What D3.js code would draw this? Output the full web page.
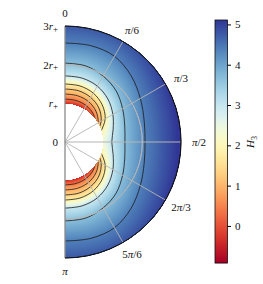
<!DOCTYPE html>
<html>
<head>
<meta charset="utf-8">
<script src="https://cdn.jsdelivr.net/npm/d3@7"></script>
<style>
  html, body { margin: 0; padding: 0; background: #fff; }
  svg { display: block; }
  text { font-family: "Liberation Serif", serif; font-size: 11px; fill: #111; }
  .math { font-style: italic; }
</style>
</head>
<body>
<script>
'use strict';

// polar angle in degrees, mirrored about the equator further down
const angles = [0, 15, 30, 45, 60, 75, 90];

// H3 values that the radius rows below belong to. first and last rows sit outside the plot
const levels = [-0.92, 0.4, 0.9, 1.3, 1.8, 3.0, 3.7, 4.4, 5.25];
// the ones that get a black contour line
const contour_levels = [0.4, 0.9, 1.3, 1.8, 3.0, 3.7, 4.4];

// radius (in r+) where H3 reaches each level, read at each angle
const r_bottom = [0.90, 0.90, 0.90, 0.86, 0.76, 0.66, 0.62];
const r_04 = [1.11, 1.11, 1.09, 1.03, 0.92, 0.74, 0.68];
const r_09 = [1.24, 1.24, 1.21, 1.13, 0.99, 0.79, 0.72];
const r_13 = [1.37, 1.37, 1.33, 1.24, 1.08, 0.85, 0.76];
const r_18 = [1.50, 1.50, 1.46, 1.36, 1.20, 0.95, 0.80];
const r_28 = [1.71, 1.71, 1.67, 1.57, 1.43, 1.29, 1.21];
const r_35 = [2.04, 2.04, 1.97, 1.87, 1.72, 1.60, 1.55];
const r_42 = [2.56, 2.58, 2.56, 2.42, 2.25, 2.12, 2.07];
const r_top = [3.50, 3.50, 3.45, 3.35, 3.20, 3.10, 3.05];
const radius_rows = [r_bottom, r_04, r_09, r_13, r_18, r_28, r_35, r_42, r_top];

const spoke_angles = [30, 60, 90, 120, 150];
const angle_labels = ['0', 'π/6', 'π/3', 'π/2', '2π/3', '5π/6', 'π'];
const radial_ticks = [0, 1, 2, 3];
const radial_labels = ['0', 'r', '2r', '3r'];
const bar_ticks = [0, 1, 2, 3, 4, 5];
const color_domain = [-0.92, 5.11];

const width = 263, height = 284;
const cx = 65, cy = 142;
const bar = {x: 215, y: 20, width: 12.5, height: 243};

const svg = d3.select('body').append('svg')
    .attr('width', width)
    .attr('height', height);

const rScale = d3.scaleLinear().domain([0, 3]).range([0, 116]);
const aScale = d3.scaleLinear().domain([0, 180]).range([0, Math.PI]);
const color = d3.scaleSequential(d3.interpolateRdYlBu).domain(color_domain);

// mirror a row from 0..90 to 0..180
const full_angles = angles.concat(angles.slice(0, -1).reverse().map(a => 180 - a));
const mirror = row => row.concat(row.slice(0, -1).reverse());
const full_rows = radius_rows.map(mirror);

const defs = svg.append('defs');
const annulus = d3.arc()
    .innerRadius(rScale(1))
    .outerRadius(rScale(3))
    .startAngle(0)
    .endAngle(Math.PI);
defs.append('clipPath').attr('id', 'annulus')
    .append('path')
    .attr('d', annulus());

const plot = svg.append('g').attr('transform', `translate(${cx},${cy})`);
const field = plot.append('g').attr('clip-path', 'url(#annulus)');

// radius of a value at each angle, through the levels table
const radii_for = v => full_angles.map((a, i) =>
    d3.scaleLinear().domain(levels).range(full_rows.map(row => row[i]))(v));

const area = d3.areaRadial()
    .angle(d => aScale(d.a))
    .innerRadius(d => rScale(d.r))
    .outerRadius(rScale(3.6))
    .curve(d3.curveCatmullRom);

// paint from low to high, each band covers everything further out
field.selectAll('.band')
    .data(d3.range(-0.9, 5.15, 0.04))
    .join('path')
    .attr('class', 'band')
    .attr('fill', d => color(d))
    .attr('d', v => {
        const radii = radii_for(v);
        return area(full_angles.map((a, i) => ({a, r: radii[i]})));
    });

const line = d3.lineRadial()
    .angle(d => aScale(d.a))
    .radius(d => rScale(d.r))
    .curve(d3.curveCatmullRom);

field.selectAll('.contour')
    .data(contour_levels)
    .join('path')
    .attr('class', 'contour')
    .attr('fill', 'none')
    .attr('stroke', '#1a1a1a')
    .attr('stroke-width', 0.8)
    .attr('d', v => {
        const radii = radii_for(v);
        return line(full_angles.map((a, i) => ({a, r: radii[i]})));
    });

// grid
const grid_color = '#b4b4b4';
plot.selectAll('.spoke')
    .data(spoke_angles)
    .join('line')
    .attr('class', 'spoke')
    .attr('x1', 0)
    .attr('y1', 0)
    .attr('x2', d => rScale(3) * Math.sin(aScale(d)))
    .attr('y2', d => -rScale(3) * Math.cos(aScale(d)))
    .attr('stroke', grid_color)
    .attr('stroke-width', d => d === 90 ? 1.2 : 0.9);

plot.append('path')
    .attr('fill', 'none')
    .attr('stroke', grid_color)
    .attr('stroke-width', 0.9)
    .attr('d', d3.arc()
        .innerRadius(rScale(2))
        .outerRadius(rScale(2))
        .startAngle(0)
        .endAngle(Math.PI)());

// outline
plot.append('line')
    .attr('y1', -rScale(3))
    .attr('y2', rScale(3))
    .attr('stroke', '#8a8a8a')
    .attr('stroke-width', 1.3);
plot.append('path')
    .attr('fill', 'none')
    .attr('stroke', '#111')
    .attr('stroke-width', 0.8)
    .attr('d', d3.arc()
        .innerRadius(rScale(3))
        .outerRadius(rScale(3))
        .startAngle(0)
        .endAngle(Math.PI)());

// angle labels, only the pi is italic
const angle_text = plot.selectAll('.angle-label')
    .data(angle_labels)
    .join('text')
    .attr('class', 'angle-label')
    .attr('text-anchor', 'middle')
    .attr('dominant-baseline', 'central')
    .attr('x', (d, i) => {
        const t = aScale(i * 30), pad = i === 0 || i === 6 ? 13 : 18;
        return (rScale(3) + pad) * Math.sin(t);
    })
    .attr('y', (d, i) => -(rScale(3) + 13) * Math.cos(aScale(i * 30)));
angle_text.each(function(d) {
    d.split(/(π)/).filter(s => s).forEach(s => {
        d3.select(this).append('tspan')
            .style('font-style', s === 'π' ? 'italic' : 'normal')
            .text(s);
    });
});

// radial labels, on the left of the axis
const radial = plot.selectAll('.radial-label')
    .data(radial_ticks)
    .join('text')
    .attr('class', 'radial-label')
    .attr('text-anchor', 'end')
    .attr('dominant-baseline', 'central')
    .attr('x', d => d === 0 ? -7 : -7)
    .attr('y', d => -rScale(d));
radial.each(function(d, i) {
    const label = d3.select(this);
    const digit = radial_labels[i].replace('r', '');
    if (digit) label.append('tspan').text(digit);
    if (d > 0) {
        label.append('tspan').attr('class', 'math').text('r');
        label.append('tspan').attr('dy', 2.5).style('font-size', '9px').text('+');
    }
});

// colorbar
const barScale = d3.scaleLinear().domain(color_domain).range([bar.y + bar.height, bar.y]);
const bar_group = svg.append('g');
bar_group.selectAll('rect')
    .data(d3.range(bar.y, bar.y + bar.height, 1))
    .join('rect')
    .attr('x', bar.x)
    .attr('y', d => d)
    .attr('width', bar.width)
    .attr('height', 1.2)
    .attr('fill', d => color(barScale.invert(d + 0.5)));
bar_group.append('rect')
    .attr('x', bar.x)
    .attr('y', bar.y)
    .attr('width', bar.width)
    .attr('height', bar.height)
    .attr('fill', 'none')
    .attr('stroke', '#111')
    .attr('stroke-width', 0.8);

const bar_axis = d3.axisRight(barScale)
    .tickValues(bar_ticks)
    .tickFormat(d3.format('d'))
    .tickSize(3.5)
    .tickSizeOuter(0)
    .tickPadding(4);
const bar_axis_g = svg.append('g')
    .attr('transform', `translate(${bar.x + bar.width},0)`)
    .call(bar_axis);
bar_axis_g.select('.domain').remove();
bar_axis_g.selectAll('text').style('font-family', '"Liberation Serif", serif').style('font-size', '11px');

const bar_label = svg.append('text')
    .attr('class', 'math')
    .attr('text-anchor', 'middle')
    .attr('transform', 'translate(254,142) rotate(-90)');
bar_label.append('tspan').text('H');
bar_label.append('tspan').attr('dy', 2.5).style('font-size', '8px').style('font-style', 'normal').text('3');
</script>
</body>
</html>
